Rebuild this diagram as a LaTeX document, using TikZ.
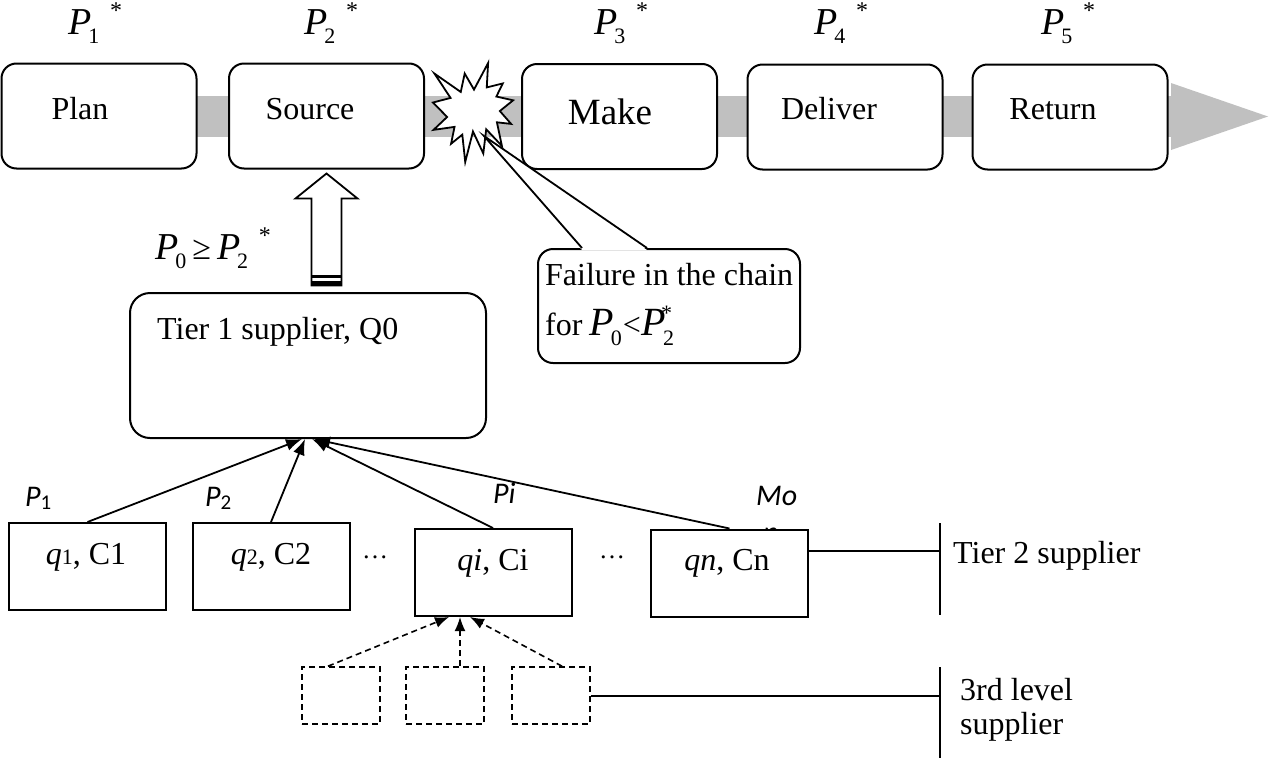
\documentclass[tikz,border=0pt]{standalone}
\usepackage{fontspec}
\setmainfont{Liberation Serif}
\newfontfamily\calibri{Carlito}
\usetikzlibrary{calc,arrows.meta}
\definecolor{bandgray}{RGB}{192,192,192}

\newcommand\subsz{\fontsize{22}{22}\selectfont}
\newcommand\starsz{\fontsize{24}{24}\selectfont}
\newcommand\pvar[1]{\textit{P}\kern-.08em\raisebox{-.26em}{\subsz #1}}
\newcommand\pstar[1]{\pvar{#1}\kern.28em\raisebox{.4em}{\starsz *}}

\begin{document}
\begin{tikzpicture}[x=1pt,y=-1pt,
    stage/.style={draw,line width=2pt,rounded corners=15pt,fill=white,
      minimum width=195pt,minimum height=105pt},
    suppbox/.style={draw,line width=2pt,fill=white,minimum width=157pt,minimum height=87pt},
    subbox/.style={draw,line width=1.6pt,dash pattern=on 6pt off 4pt,
      minimum width=78pt,minimum height=57pt},
    lbl/.style={inner sep=0pt,anchor=base,font=\fontsize{32}{38}\selectfont},
    mlbl/.style={lbl,font=\fontsize{38}{44}\selectfont},
    clbl/.style={inner sep=0pt,anchor=base west,font=\calibri\fontsize{30}{36}\selectfont},
    feed/.style={line width=1.8pt,-{Latex[length=16pt,width=12pt]}},
    subfeed/.style={line width=1.6pt,dash pattern=on 6pt off 4pt,-{Latex[length=14pt,width=11pt]}}]
  \useasboundingbox (0,0) rectangle (1271,758);

  % process band with its head
  \fill[bandgray] (100,96) rectangle (1171,137);
  \fill[bandgray] (1171,83) -- (1268,116.5) -- (1171,150) -- cycle;

  % the five stages
  \node[stage] (plan) at (99,116) {};
  \node[stage] (source) at (326.5,116) {};
  \node[stage] (make) at (619.5,116.5) {};
  \node[stage] (deliver) at (845,117) {};
  \node[stage] (return) at (1070,117) {};
  \node[lbl] (plantext) at (80,119) {Plan};
  \node[lbl] (sourcetext) at (310,119) {Source};
  \node[lbl,font=\fontsize{37}{44}\selectfont] (maketext) at (610,124) {Make};
  \node[lbl] (delivertext) at (829,119) {Deliver};
  \node[lbl] (returntext) at (1053,119) {Return};

  % required level per stage
  \node[mlbl,anchor=base west] (p1) at (68,34) {\pstar{1}};
  \node[mlbl,anchor=base west] (p2) at (304,34) {\pstar{2}};
  \node[mlbl,anchor=base west] (p3) at (594,34) {\pstar{3}};
  \node[mlbl,anchor=base west] (p4) at (814,34) {\pstar{4}};
  \node[mlbl,anchor=base west] (p5) at (1041,34) {\pstar{5}};

  % break in the chain
  \begin{scope}[shift={(433,63)},xscale=0.3796,yscale=0.4583]
    \draw[line width=1.8pt,fill=white] (108,58) -- (145.2,0) -- (141.6,53.3) -- (183.8,44.6)
      -- (167,73.2) -- (211,81.4) -- (176.1,104.8) -- (205.8,132.9) -- (168.4,129.4)
      -- (181.5,181) -- (140.2,144.6) -- (132.5,197.4) -- (105.3,149.4) -- (84.9,216)
      -- (77.2,156.3) -- (47.6,176.2) -- (56.7,139.4) -- (1.4,145.9) -- (37.2,117.8)
      -- (0,86.2) -- (46.3,76.2) -- (3.7,23) -- (73.1,63.2) -- (83.5,23) -- cycle;
  \end{scope}
  \coordinate (bursttip) at (484,136);

  % callout
  \node[draw,line width=2pt,rounded corners=15pt,fill=white,
    minimum width=262pt,minimum height=114pt] (fail) at (669,306) {};
  \fill[white] ($(fail.north)+(-87,2)$) -- (bursttip) -- ($(fail.north)+(-22,2)$) -- cycle;
  \draw[line width=1.8pt] ($(fail.north)+(-87,0)$) -- (bursttip) -- ($(fail.north)+(-22,0)$);
  \node[lbl,anchor=base west] (failtext) at (545,285) {Failure in the chain};
  \node[lbl,anchor=base west] (failcond) at (545,335) {for\kern7pt{\fontsize{40}{44}\selectfont\pvar{0}}\kern1pt<\kern1pt{\fontsize{40}{44}\selectfont\pvar{2}\kern-.32em\raisebox{.36em}{\subsz *}}};

  % tier 1 feeds the source stage
  \coordinate (uptip) at ([yshift=-4]source.south);
  \draw[line width=1.8pt,fill=white] (uptip) -- ++(31,25) -- ++(-16,0) -- ++(0,87)
    -- ++(-30,0) -- ++(0,-87) -- ++(-16,0) -- cycle;
  \draw[line width=3pt] ($(uptip)+(-15,103)$) -- ++(30,0);
  \draw[line width=4pt] ($(uptip)+(-15,109.5)$) -- ++(30,0);
  \node[mlbl,anchor=base west] (pcond) at (155,259) {\pvar{0}\kern6pt{\fontsize{34}{40}\selectfont ≥}\kern6pt\pstar{2}};

  \node[draw,line width=2pt,rounded corners=20pt,fill=white,
    minimum width=356pt,minimum height=145pt] (tier1) at (308,365.5) {};
  \node[lbl,anchor=base west] (tier1text) at (157,339) {Tier 1 supplier, Q0};

  % tier 2 suppliers
  \node[clbl] (w1) at (25,506) {\textit{P}\raisebox{-.1em}{\fontsize{21}{21}\selectfont 1}};
  \node[clbl] (w2) at (205,506) {\textit{P}\raisebox{-.1em}{\fontsize{21}{21}\selectfont 2}};
  \node[clbl] (wi) at (493,503) {\textit{Pi}};
  \node[clbl] (wmo) at (756,505) {\textit{Mo}};
  \node[clbl] (wn) at (763,542) {\textit{n}};

  \node[suppbox] (q1) at (87.5,566.5) {};
  \node[suppbox] (q2) at (271,566.5) {};
  \node[suppbox] (qi) at (493,572.5) {};
  \node[suppbox] (qn) at (729.5,573) {};
  \node[lbl] (q1text) at (86,564) {\textit{q}{\fontsize{22}{22}\selectfont 1}, C1};
  \node[lbl] (q2text) at (271,564) {\textit{q}{\fontsize{22}{22}\selectfont 2}, C2};
  \node[lbl] (qitext) at (493,570) {\textit{qi}, Ci};
  \node[lbl] (qntext) at (727,570) {\textit{qn}, Cn};
  \node[inner sep=0pt,font=\fontsize{26}{30}\selectfont] (dots1) at (375,557) {…};
  \node[inner sep=0pt,font=\fontsize{26}{30}\selectfont] (dots2) at (612,557) {…};

  \draw[feed] (q1.north) -- ([xshift=-6]tier1.south);
  \draw[feed] (q2.north) -- ([xshift=-3]tier1.south);
  \draw[feed] (qi.north) -- ([xshift=4]tier1.south);
  \draw[feed] (qn.north) -- ([xshift=6]tier1.south);

  \coordinate (bar2top) at (940,523);
  \coordinate (bar2bot) at (940,615);
  \coordinate (qnout) at ([yshift=22]qn.east);
  \draw[line width=1.8pt] (bar2top) -- (bar2bot);
  \draw[line width=1.8pt] (qnout) -- (qnout -| bar2top);
  \node[lbl,anchor=base west] (tier2lbl) at (953,563) {Tier 2 supplier};

  % third level
  \node[subbox] (d1) at (341,695.5) {};
  \node[subbox] (d2) at (445,695.5) {};
  \node[subbox] (d3) at (551,695.5) {};
  \draw[subfeed] ([xshift=-13]d1.north) -- ([xshift=-44]qi.south);
  \draw[subfeed] ([xshift=15]d2.north) -- ([xshift=-33]qi.south);
  \draw[subfeed] ([xshift=11]d3.north) -- ([xshift=-23]qi.south);

  \coordinate (bar3top) at (940,667);
  \coordinate (bar3bot) at (940,758);
  \draw[line width=1.8pt] (bar3top) -- (bar3bot);
  \draw[line width=2pt] (d3.east) -- (d3.east -| bar3top);
  \node[lbl,anchor=base west] (tier3lbl) at (960,700) {3rd level};
  \node[lbl,anchor=base west] (tier3lbl2) at (960,734) {supplier};
\end{tikzpicture}
\end{document}
